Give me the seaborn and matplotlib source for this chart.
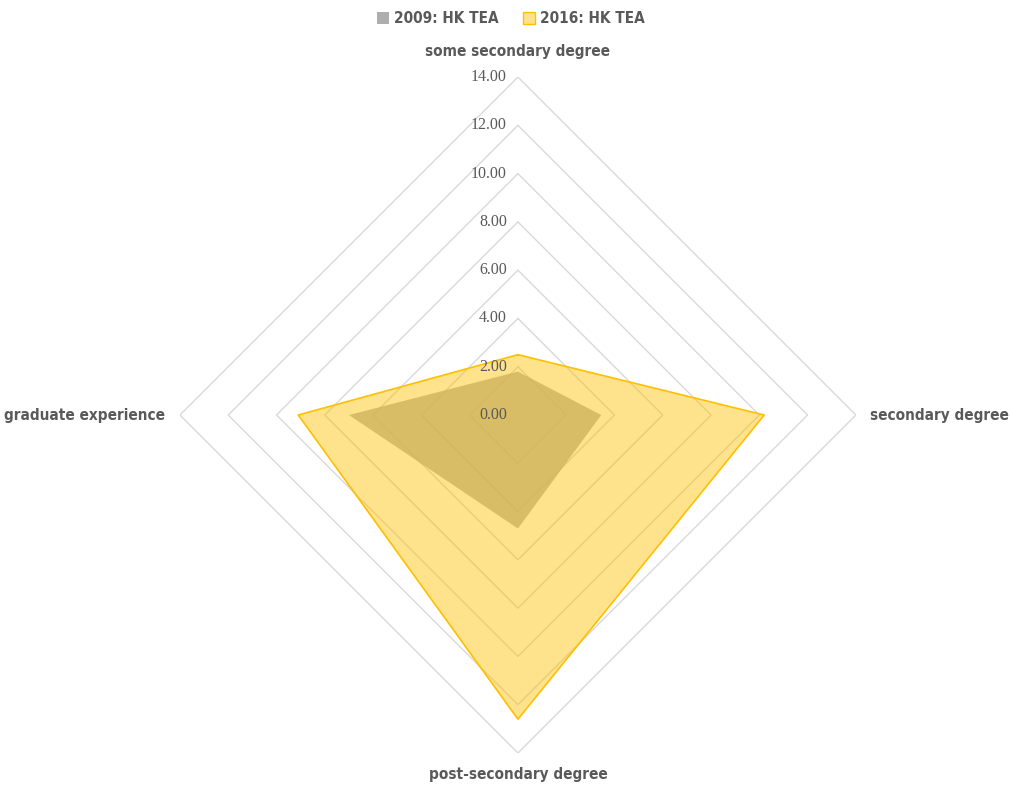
import matplotlib
matplotlib.use("Agg")
import matplotlib.pyplot as plt
import numpy as np
import seaborn as sns
from matplotlib.patches import Patch

sns.set_theme(style="white")

# data
categories = ["some secondary degree", "secondary degree",
              "post-secondary degree", "graduate experience"]
hk_2009 = [1.8, 3.45, 4.7, 7.0]
hk_2016 = [2.5, 10.2, 12.6, 9.1]
series_names = ["2009: HK TEA", "2016: HK TEA"]
ring_values = [0, 2, 4, 6, 8, 10, 12, 14]

label_font = dict(family=["Liberation Sans Narrow", "DejaVu Sans"],
                  fontstretch="condensed", fontweight="bold",
                  color="#595959", fontsize=11)

angles = np.linspace(0, 2 * np.pi, len(categories), endpoint=False)
angles_closed = np.append(angles, angles[0])

fig = plt.figure(figsize=(10.11, 7.90), dpi=100)
ax = fig.add_axes([0.178, 0.0468, 0.6686, 0.8557], projection="polar")
ax.set_theta_offset(np.pi / 2)
ax.set_theta_direction(-1)
ax.set_ylim(0, 14)
ax.grid(False)
ax.spines["polar"].set_visible(False)
ax.set_xticks([])
ax.set_yticks([])
ax.set_facecolor("none")

# diamond gridlines
for r in ring_values[1:]:
    ax.plot(angles_closed, [r] * len(angles_closed), color="#D9D9D9", lw=1, zorder=1)

gray = "#A5A5A5"
gold = "#FFC000"

v09 = np.append(hk_2009, hk_2009[0])
v16 = np.append(hk_2016, hk_2016[0])
ax.fill(angles_closed, v09, color=gray, alpha=0.75, lw=0, zorder=2)
ax.fill(angles_closed, v16, color=gold, alpha=0.45, lw=0, zorder=3)
ax.plot(angles_closed, v16, color=gold, lw=1.2, zorder=4)

# ring labels
for r in ring_values:
    ax.annotate(f"{r:.2f}", xy=(0, r), xytext=(-8, 0), textcoords="offset points",
                ha="right", va="center", fontsize=11.5, color="#595959",
                family="Liberation Serif", zorder=5)

# category labels
r_lab = 14.6
ax.text(angles[0], r_lab + 0.15, categories[0], ha="center", va="bottom", **label_font)
ax.text(angles[1], r_lab, categories[1], ha="left", va="center", **label_font)
ax.text(angles[2], r_lab, categories[2], ha="center", va="top", **label_font)
ax.text(angles[3], r_lab, categories[3], ha="right", va="center", **label_font)

handles = [Patch(facecolor=gray, edgecolor="none", alpha=0.9),
           Patch(facecolor="#FFE38C", edgecolor=gold, lw=1)]
leg = fig.legend(handles, series_names, loc="upper center", bbox_to_anchor=(0.505, 1.003),
                 ncol=2, frameon=False, handlelength=0.8, handleheight=0.8,
                 handletextpad=0.3, columnspacing=1.6,
                 prop=dict(family=label_font["family"], stretch="condensed",
                           weight="bold", size=11))
for t in leg.get_texts():
    t.set_color("#595959")

fig.savefig("out.png", dpi=100)
